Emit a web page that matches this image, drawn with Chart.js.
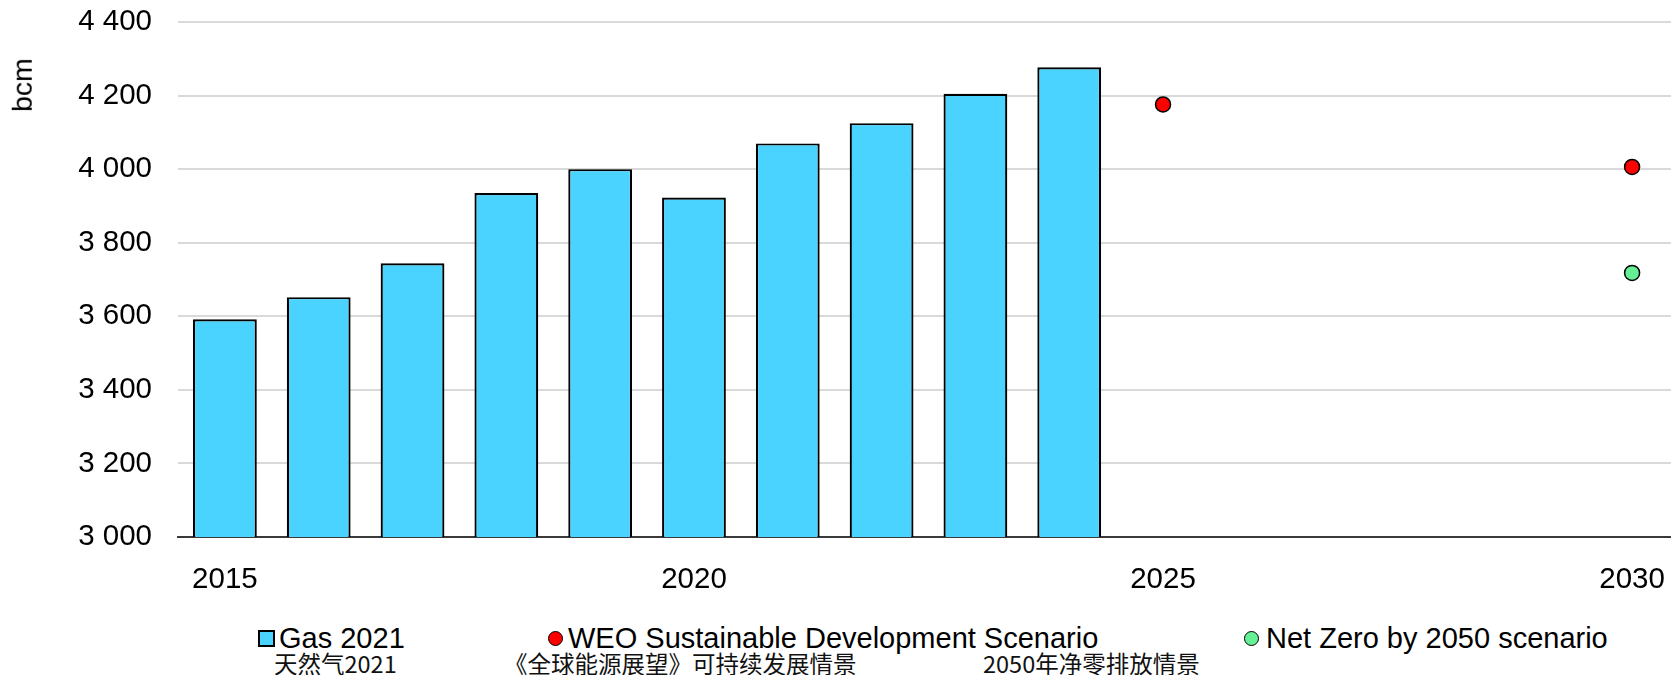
<!DOCTYPE html>
<html>
<head>
<meta charset="utf-8">
<script src="https://cdn.jsdelivr.net/npm/chart.js@4.4.1/dist/chart.umd.min.js"></script>
<style>
  html, body { margin: 0; padding: 0; background: #fff; overflow: hidden; }
  #wrap { position: relative; width: 1671px; height: 675px; overflow: hidden; font-family: "Liberation Sans", Arial, sans-serif; color: #000; }
  #c { position: absolute; left: 0; top: 0; width: 1688px; height: 600px; }
  .ytitle { position: absolute; left: 22px; top: 85px; font-size: 28.5px; line-height: 1; transform: translate(-50%, -50%) rotate(-90deg); white-space: nowrap; }
  .leg { position: absolute; font-size: 29px; line-height: 34px; top: 621px; white-space: nowrap; }
  .mk { position: absolute; box-sizing: border-box; border: 2px solid #000; }
  .zh { position: absolute; font-family: "Noto Sans CJK SC", sans-serif; font-size: 23.5px; line-height: 28px; top: 649px; white-space: nowrap; color: #111; }
</style>
</head>
<body>
<div id="wrap">
  <canvas id="c" width="1688" height="600"></canvas>
  <div class="ytitle">bcm</div>
  <div class="mk" style="left:258px;top:630px;width:17px;height:17px;background:#4BD3FF;"></div>
  <div class="leg" style="left:279px;">Gas 2021</div>
  <div class="mk" style="left:548px;top:631px;width:15px;height:15px;border-radius:50%;border-width:1.5px;background:#FF0000;"></div>
  <div class="leg" style="left:568px;">WEO Sustainable Development Scenario</div>
  <div class="mk" style="left:1244px;top:631px;width:15px;height:15px;border-radius:50%;border-width:1.5px;background:#66F096;"></div>
  <div class="leg" style="left:1266px;">Net Zero by 2050 scenario</div>
  <div class="zh" style="left:274px;">天然气2021</div>
  <div class="zh" style="left:504px;">《全球能源展望》可持续发展情景</div>
  <div class="zh" style="left:983px;">2050年净零排放情景</div>
</div>
<script>
const years = ['2015','2016','2017','2018','2019','2020','2021','2022','2023','2024','2025','2026','2027','2028','2029','2030'];
const gasValues = [3592, 3652, 3744, 3935, 4000, 3923, 4070, 4125, 4205, 4277, null, null, null, null, null, null];
const sdsValues = [null, null, null, null, null, null, null, null, null, null, 4176, null, null, null, null, 4006];
const nzeValues = [null, null, null, null, null, null, null, null, null, null, null, null, null, null, null, 3718];
const yTicks = [3000, 3200, 3400, 3600, 3800, 4000, 4200, 4400];
const seriesNames = ['Gas 2021', 'WEO Sustainable Development Scenario', 'Net Zero by 2050 scenario'];

const fmt = v => String(v).replace(/\B(?=(\d{3})+(?!\d))/g, ' ');
const FONT = '"Liberation Sans", Arial, sans-serif';

new Chart(document.getElementById('c'), {
  data: {
    labels: years,
    datasets: [
      { type: 'line', label: seriesNames[1], data: sdsValues, showLine: false,
        pointRadius: 7.5, pointHoverRadius: 7.5, pointBackgroundColor: '#FF0000',
        pointBorderColor: '#000', pointBorderWidth: 1.5, order: 0 },
      { type: 'line', label: seriesNames[2], data: nzeValues, showLine: false,
        pointRadius: 7.5, pointHoverRadius: 7.5, pointBackgroundColor: '#66F096',
        pointBorderColor: '#000', pointBorderWidth: 1.5, order: 0 },
      { type: 'bar', label: seriesNames[0], data: gasValues, backgroundColor: '#4BD3FF',
        borderColor: '#000', borderWidth: 2.2, categoryPercentage: 1.0, barPercentage: 0.68, order: 1 }
    ]
  },
  options: {
    responsive: false,
    devicePixelRatio: 1,
    animation: false,
    layout: { padding: { top: 22, left: 0, right: 0, bottom: 0 } },
    plugins: { legend: { display: false }, tooltip: { enabled: false } },
    scales: {
      x: {
        type: 'category',
        offset: true,
        grid: { display: true, drawOnChartArea: false, drawTicks: true, tickLength: 25,
                color: 'rgba(0,0,0,0)', tickColor: 'rgba(0,0,0,0)' },
        border: { display: true, color: '#3a3a3a', width: 2 },
        ticks: {
          autoSkip: false, maxRotation: 0, padding: 0, color: '#000',
          font: { family: FONT, size: 29.5 },
          callback: function (val) { const y = this.getLabelForValue(val); return Number(y) % 5 === 0 ? y : ''; }
        },
        afterFit: s => { s.height = 63; }
      },
      y: {
        min: yTicks[0], max: yTicks[yTicks.length - 1],
        afterBuildTicks: s => { s.ticks = yTicks.map(v => ({ value: v })); },
        grid: { color: '#D9D9D9', lineWidth: 2, drawTicks: true, tickLength: 26, tickColor: 'rgba(0,0,0,0)' },
        border: { display: false },
        ticks: { padding: 0, color: '#000', font: { family: FONT, size: 29.5 }, callback: v => fmt(v) },
        afterFit: s => { s.width = 178; }
      }
    }
  }
});
</script>
</body>
</html>
